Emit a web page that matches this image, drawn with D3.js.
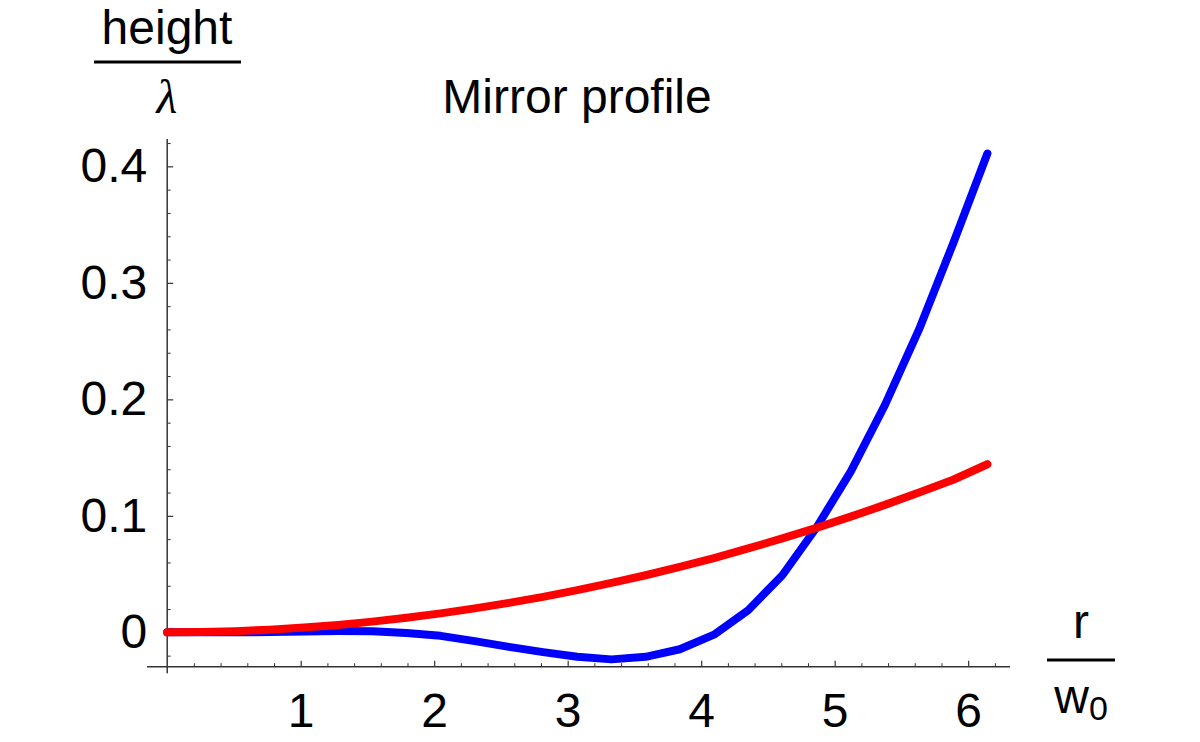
<!DOCTYPE html>
<html>
<head>
<meta charset="utf-8">
<script src="https://cdn.jsdelivr.net/npm/d3@7/dist/d3.min.js"></script>
<style>
  html, body { margin: 0; padding: 0; background: #fff; }
  svg { display: block; }
  text { font-family: "Liberation Sans", Arial, Helvetica, sans-serif; fill: #000; }
</style>
</head>
<body>
<svg id="chart" width="1200" height="742"></svg>
<script>
// ---- data ----
const radius = [0, 0.256, 0.512, 0.768, 1.024, 1.28, 1.536, 1.792, 2.048, 2.304, 2.56, 2.816,
                3.072, 3.328, 3.584, 3.84, 4.096, 4.352, 4.608, 4.864, 5.12, 5.376, 5.632, 5.888, 6.144];
const mirrorBlue = [0, 0, 0, 0.0003, 0.0008, 0.0012, 0.0010, -0.0005, -0.003, -0.0075, -0.0125, -0.017,
                    -0.021, -0.0232, -0.021, -0.0145, -0.002, 0.019, 0.049, 0.090, 0.138, 0.195, 0.260, 0.334, 0.411];
const mirrorRed = [0, 0.0003, 0.0010, 0.0023, 0.0041, 0.0064, 0.0092, 0.0125, 0.0163, 0.0206, 0.0253, 0.0305,
                   0.0362, 0.0424, 0.0490, 0.0562, 0.0638, 0.0720, 0.0806, 0.0897, 0.0993, 0.1094, 0.1200, 0.1310, 0.1443];
const xTickValues = [1, 2, 3, 4, 5, 6];
const yTickValues = [0, 0.1, 0.2, 0.3, 0.4];
const yTickLabels = ["0", "0.1", "0.2", "0.3", "0.4"];
const xMinorTicks = [0.2,0.4,0.6,0.8,1.2,1.4,1.6,1.8,2.2,2.4,2.6,2.8,3.2,3.4,3.6,3.8,4.2,4.4,4.6,4.8,5.2,5.4,5.6,5.8,6.2];
const yMinorTicks = [-0.02,0.02,0.04,0.06,0.08,0.12,0.14,0.16,0.18,0.22,0.24,0.26,0.28,0.32,0.34,0.36,0.38,0.42];
const titleText = "Mirror profile";

// ---- layout ----
const svg = d3.select("#chart");
const x = d3.scaleLinear().domain([-0.1513, 6.3133]).range([147, 1010]);
const y = d3.scaleLinear().domain([-0.02948, 0.42347]).range([666.7, 139]);
const axisColor = "#333";
const fontSize = 48;

// y axis line (extends a little below the x axis)
svg.append("line")
  .attr("x1", x(0)).attr("x2", x(0))
  .attr("y1", y.range()[1]).attr("y2", y.range()[0] + 6.5)
  .attr("stroke", axisColor).attr("stroke-width", 1.5);
// x axis line
svg.append("line")
  .attr("x1", x.range()[0]).attr("x2", x.range()[1])
  .attr("y1", y.range()[0]).attr("y2", y.range()[0])
  .attr("stroke", axisColor).attr("stroke-width", 1.5);

// x axis major
const gx = svg.append("g").attr("transform", `translate(0,${y.range()[0]})`)
  .call(d3.axisBottom(x).tickValues(xTickValues).tickFormat(d3.format("d")).tickSize(-6).tickPadding(26));
gx.select(".domain").remove();
gx.selectAll("line").attr("stroke", axisColor).attr("stroke-width", 1.2);
gx.selectAll("text").attr("font-size", fontSize).style("font-family", '"Liberation Sans", Arial, sans-serif').attr("fill", "#000");
// x axis minor
const gxm = svg.append("g").attr("transform", `translate(0,${y.range()[0]})`)
  .call(d3.axisBottom(x).tickValues(xMinorTicks).tickFormat("").tickSize(-3.5));
gxm.select(".domain").remove();
gxm.selectAll("line").attr("stroke", axisColor).attr("stroke-width", 1);

// y axis major
const gy = svg.append("g").attr("transform", `translate(${x(0)},0)`)
  .call(d3.axisLeft(y).tickValues(yTickValues).tickFormat((d, i) => yTickLabels[i]).tickSize(-6).tickPadding(20));
gy.select(".domain").remove();
gy.selectAll("line").attr("stroke", axisColor).attr("stroke-width", 1.2);
gy.selectAll("text").attr("font-size", fontSize).style("font-family", '"Liberation Sans", Arial, sans-serif').attr("fill", "#000");
// y axis minor
const gym = svg.append("g").attr("transform", `translate(${x(0)},0)`)
  .call(d3.axisLeft(y).tickValues(yMinorTicks).tickFormat("").tickSize(-3.5));
gym.select(".domain").remove();
gym.selectAll("line").attr("stroke", axisColor).attr("stroke-width", 1);

// ---- curves ----
const line = d3.line().x(d => x(d[0])).y(d => y(d[1])).curve(d3.curveLinear);
const blueData = radius.map((r, i) => [r, mirrorBlue[i]]);
const redData = radius.map((r, i) => [r, mirrorRed[i]]);
svg.append("path").datum(blueData).attr("d", line)
  .attr("fill", "none").attr("stroke", "#0000ff").attr("stroke-width", 8)
  .attr("stroke-linecap", "round").attr("stroke-linejoin", "round");
svg.append("path").datum(redData).attr("d", line)
  .attr("fill", "none").attr("stroke", "#ff0000").attr("stroke-width", 8)
  .attr("stroke-linecap", "round").attr("stroke-linejoin", "round");

// ---- title ----
svg.append("text").attr("x", 577).attr("y", 113).attr("text-anchor", "middle")
  .attr("font-size", 48).text(titleText);

// ---- y axis label: height / λ ----
svg.append("text").attr("x", 167).attr("y", 44).attr("text-anchor", "middle")
  .attr("font-size", 48).text("height");
svg.append("line").attr("x1", 94).attr("x2", 241).attr("y1", 62).attr("y2", 62)
  .attr("stroke", "#000").attr("stroke-width", 3);
svg.append("text").attr("x", 167).attr("y", 113).attr("text-anchor", "middle")
  .attr("font-size", fontSize).style("font-family", '"Liberation Serif", "DejaVu Serif", serif')
  .style("font-style", "italic").text("λ");

// ---- x axis label: r / w0 ----
svg.append("text").attr("x", 1081).attr("y", 638).attr("text-anchor", "middle")
  .attr("font-size", fontSize).text("r");
svg.append("line").attr("x1", 1047).attr("x2", 1115).attr("y1", 660).attr("y2", 660)
  .attr("stroke", "#000").attr("stroke-width", 3);
const w0 = svg.append("text").attr("x", 1081).attr("y", 713).attr("text-anchor", "middle")
  .attr("font-size", fontSize);
w0.append("tspan").text("w");
w0.append("tspan").attr("font-size", 34).attr("dy", 7).text("0");
</script>
</body>
</html>
